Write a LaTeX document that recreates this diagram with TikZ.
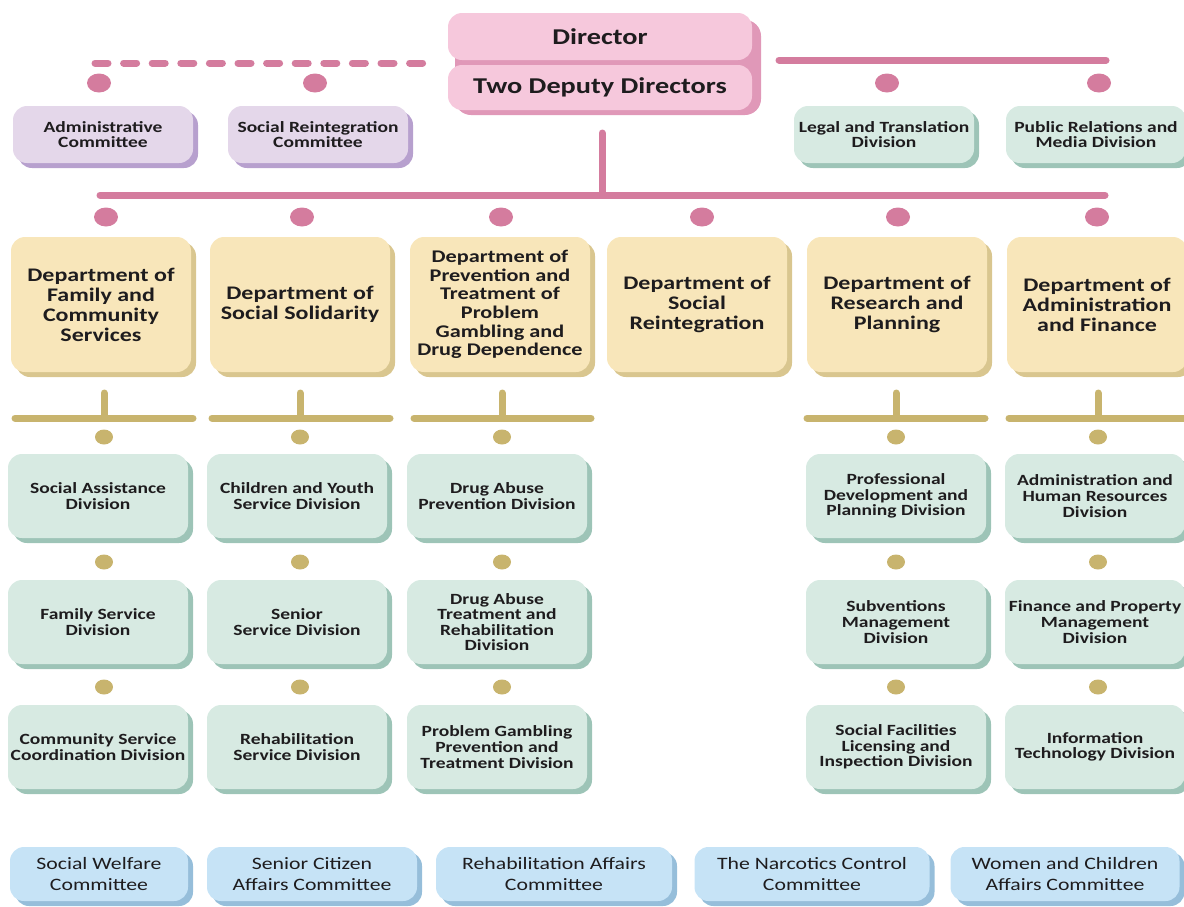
\documentclass[tikz,border=0pt]{standalone}
\usepackage{fontspec}
\setmainfont{Carlito}[FakeStretch=1.25]
\usepackage{tikz}
\usetikzlibrary{shapes}
\usetikzlibrary{shadows}
\definecolor{pnk}{RGB}{212,124,158}
\definecolor{pnkfill}{RGB}{246,200,220}
\definecolor{pnksh}{RGB}{224,152,184}
\definecolor{vio}{RGB}{228,215,234}
\definecolor{viosh}{RGB}{183,160,206}
\definecolor{grn}{RGB}{215,234,226}
\definecolor{grnsh}{RGB}{157,196,183}
\definecolor{ylw}{RGB}{248,230,186}
\definecolor{ylwsh}{RGB}{217,198,143}
\definecolor{tan}{RGB}{200,180,110}
\definecolor{blu}{RGB}{198,227,246}
\definecolor{blush}{RGB}{150,190,218}
\definecolor{txt}{RGB}{30,28,30}
\tikzset{
    mynodep/.style = {rectangle, rounded corners=7pt, fill=pnkfill, align=center, minimum width=152pt, inner sep=1pt, font=\fontsize{11.3}{13}\selectfont\bfseries, text=txt},
    mynodepb/.style = {rectangle, rounded corners=8pt, fill=pnksh, minimum width=153pt, minimum height=47.5pt},
    mynodev/.style = {rectangle, rounded corners=7pt, fill=vio, align=center, minimum width=90pt, minimum height=28.5pt, inner sep=1pt, font=\fontsize{7.8}{7.8}\selectfont\bfseries, text=txt, drop shadow={shadow xshift=2.5pt, shadow yshift=-2.5pt, fill=viosh, opacity=1}},
    mynodeg/.style = {rectangle, rounded corners=7pt, fill=grn, align=center, minimum width=90pt, minimum height=28.5pt, inner sep=1pt, font=\fontsize{7.8}{7.8}\selectfont\bfseries, text=txt, drop shadow={shadow xshift=2.5pt, shadow yshift=-2.5pt, fill=grnsh, opacity=1}},
    mynodegd/.style = {mynodeg, minimum height=42pt},
    mynodey/.style = {rectangle, rounded corners=7pt, fill=ylw, align=center, minimum width=90pt, minimum height=67.5pt, inner sep=1pt, font=\fontsize{9.6}{10}\selectfont\bfseries, text=txt, drop shadow={shadow xshift=2.5pt, shadow yshift=-2.5pt, fill=ylwsh, opacity=1}},
    mynodeb/.style = {rectangle, rounded corners=7pt, fill=blu, align=center, minimum height=27pt, inner sep=1pt, font=\fontsize{8.7}{10.5}\selectfont, text=txt, drop shadow={shadow xshift=2.5pt, shadow yshift=-2.5pt, fill=blush, opacity=1}},
    dotp/.style = {ellipse, fill=pnk, minimum width=12pt, minimum height=9.5pt, inner sep=0pt},
    dott/.style = {ellipse, fill=tan, minimum width=9pt, minimum height=7.5pt, inner sep=0pt},
    edgep/.style = {-, line width=3.5pt, pnk, line cap=round},
    edgepd/.style = {-, line width=3.5pt, pnk, line cap=round, dash pattern=on 6.5pt off 7.8pt},
    edget/.style = {-, line width=3.5pt, tan, line cap=round}
}
\begin{document}
\begin{tikzpicture}[x=0.5pt,y=-0.5pt]
\path[use as bounding box] (0,0) rectangle (1184,906);
% director
\node[mynodepb] at (608,67.5) (dirbg) {};
\node[mynodep, minimum height=23.5pt] at (600,36.5) (dir) {Director};
\node[mynodep, minimum height=22.5pt] at (600,87.5) (dep) {Two Deputy Directors};
%
\coordinate (dl) at (95,63);
\coordinate (dr) at (427,63);
\coordinate (rl) at (779,60);
\coordinate (rr) at (1106,60);
\coordinate (st) at (602,133);
\coordinate (bl) at (100,195);
\coordinate (br) at (1105,195);
\draw[edgepd] (dl) -- (dr);
\draw[edgep] (rl) -- (rr);
\draw[edgep] (st) -- (st |- bl);
\draw[edgep] (bl) -- (br);
%
\node[dotp] at (99,83) (pa) {};
\node[dotp] at (315,83) (pb) {};
\node[dotp] at (887,83) (pc) {};
\node[dotp] at (1099,83) (pd) {};
\node[mynodev] at (103,134.5) (adm) {Administrative\\Committee};
\node[mynodev] at (318,134.5) (sri) {Social Reintegration\\Committee};
\node[mynodeg] at (884,134.5) (leg) {Legal and Translation\\Division};
\node[mynodeg] at (1096,134.5) (pub) {Public Relations and\\Media Division};
%
\node[dotp] at (106,217) (p1) {};
\node[dotp] at (302,217) (p2) {};
\node[dotp] at (501,217) (p3) {};
\node[dotp] at (702,217) (p4) {};
\node[dotp] at (898,217) (p5) {};
\node[dotp] at (1097,217) (p6) {};
% departments
\node[mynodey] at (101,304.5) (d1) {Department of\\Family and\\Community\\Services};
\node[mynodey] at (300,304.5) (d2) {Department of\\Social Solidarity};
\node[mynodey, font=\fontsize{8.9}{9.3}\selectfont\bfseries] at (500,304.5) (d3) {Department of\\Prevention and\\Treatment of\\Problem\\Gambling and\\Drug Dependence};
\node[mynodey] at (697,304.5) (d4) {Department of\\Social\\Reintegration};
\node[mynodey] at (897,304.5) (d5) {Department of\\Research and\\Planning};
\node[mynodey] at (1097,304.5) (d6) {Department of\\Administration\\and Finance};
%
\coordinate (s1) at (104,393); \coordinate (a1) at (15,418); \coordinate (b1) at (193,418);
\coordinate (s2) at (300,393); \coordinate (a2) at (212,418); \coordinate (b2) at (390,418);
\coordinate (s3) at (502,393); \coordinate (a3) at (414,418); \coordinate (b3) at (591,418);
\coordinate (s5) at (896,393); \coordinate (a5) at (807,418); \coordinate (b5) at (985,418);
\coordinate (s6) at (1098,393); \coordinate (a6) at (1009,418); \coordinate (b6) at (1190,418);
\draw[edget] (s1) -- (s1 |- a1) (a1) -- (b1);
\draw[edget] (s2) -- (s2 |- a2) (a2) -- (b2);
\draw[edget] (s3) -- (s3 |- a3) (a3) -- (b3);
\draw[edget] (s5) -- (s5 |- a5) (a5) -- (b5);
\draw[edget] (s6) -- (s6 |- a6) (a6) -- (b6);
%
\node[dott] at (104,437) (t11) {};
\node[dott] at (300,437) (t21) {};
\node[dott] at (502,437) (t31) {};
\node[dott] at (896,437) (t51) {};
\node[dott] at (1098,437) (t61) {};
\node[dott] at (104,562) (t12) {};
\node[dott] at (300,562) (t22) {};
\node[dott] at (502,562) (t32) {};
\node[dott] at (896,562) (t52) {};
\node[dott] at (1098,562) (t62) {};
\node[dott] at (104,687) (t13) {};
\node[dott] at (300,687) (t23) {};
\node[dott] at (502,687) (t33) {};
\node[dott] at (896,687) (t53) {};
\node[dott] at (1098,687) (t63) {};
% divisions
\node[mynodegd] at (98,496) (sa) {Social Assistance\\Division};
\node[mynodegd] at (98,622) (fs) {Family Service\\Division};
\node[mynodegd] at (98,747) (cs) {Community Service\\Coordination Division};
\node[mynodegd] at (297,496) (cy) {Children and Youth\\Service Division};
\node[mynodegd] at (297,622) (ss) {Senior\\Service Division};
\node[mynodegd] at (297,747) (rs) {Rehabilitation\\Service Division};
\node[mynodegd] at (497,496) (dp) {Drug Abuse\\Prevention Division};
\node[mynodegd] at (497,622) (dt) {Drug Abuse\\Treatment and\\Rehabilitation\\Division};
\node[mynodegd] at (497,747) (pg) {Problem Gambling\\Prevention and\\Treatment Division};
\node[mynodegd] at (896,496) (pd) {Professional\\Development and\\Planning Division};
\node[mynodegd] at (896,622) (sm) {Subventions\\Management\\Division};
\node[mynodegd] at (896,747) (sf) {Social Facilities\\Licensing and\\Inspection Division};
\node[mynodegd] at (1095,496) (ah) {Administration and\\Human Resources\\Division};
\node[mynodegd] at (1095,622) (fp) {Finance and Property\\Management\\Division};
\node[mynodegd] at (1095,747) (it) {Information\\Technology Division};
% committees
\node[mynodeb, minimum width=89pt] at (99,874) (sw) {Social Welfare\\Committee};
\node[mynodeb, minimum width=105pt] at (312,874) (sc) {Senior Citizen\\Affairs Committee};
\node[mynodeb, minimum width=118pt] at (554,874) (ra) {Rehabilitation Affairs\\Committee};
\node[mynodeb, minimum width=117.5pt] at (812,874) (nc) {The Narcotics Control\\Committee};
\node[mynodeb, minimum width=114.5pt] at (1065,874) (wc) {Women and Children\\Affairs Committee};
\end{tikzpicture}
\end{document}
